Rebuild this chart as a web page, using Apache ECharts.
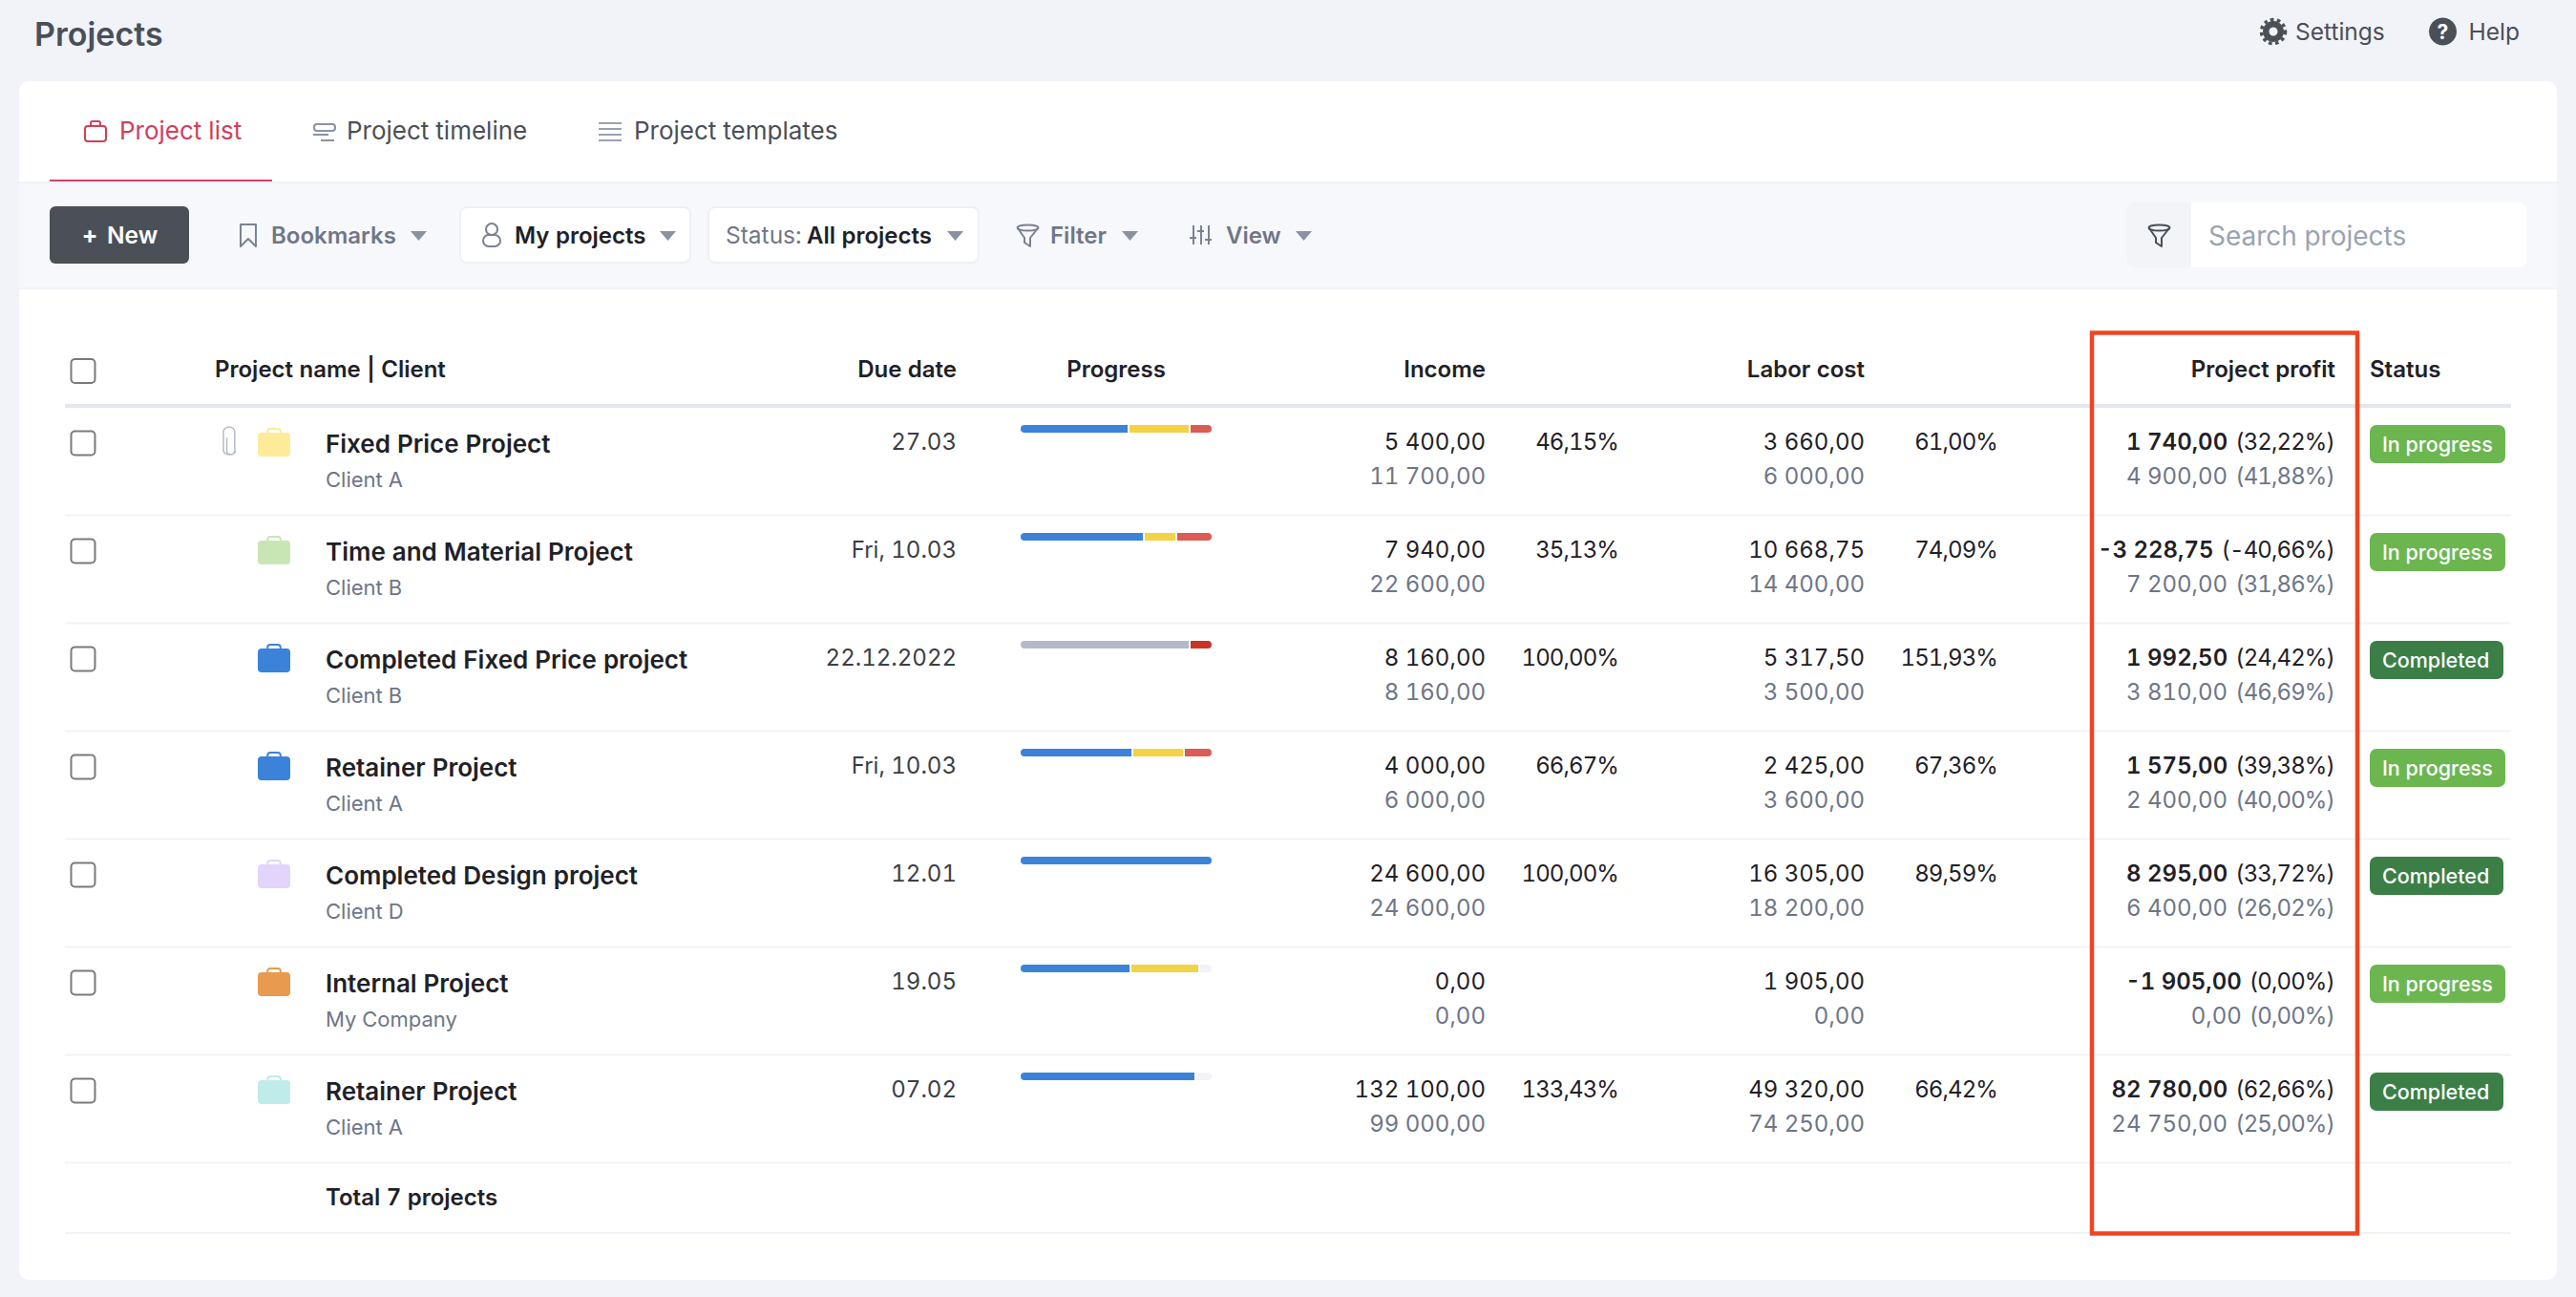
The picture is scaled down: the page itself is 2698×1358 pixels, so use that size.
<!DOCTYPE html>
<html><head><meta charset="utf-8">
<style>html,body{margin:0;padding:0;background:#f1f3f8}#c{width:2698px;height:1358px}
#c svg text{font-variant-numeric:tabular-nums !important;font-feature-settings:"tnum" 1 !important}
#m{position:absolute;visibility:hidden;white-space:pre;left:0;top:0}</style>
<script src="https://cdn.jsdelivr.net/npm/echarts@6/dist/echarts.min.js"></script>
</head><body><div id="c"></div><span id="m"></span>
<script>
const projectNames=['Fixed Price Project','Time and Material Project','Completed Fixed Price project','Retainer Project','Completed Design project','Internal Project','Retainer Project'];
const clients=['Client A','Client B','Client B','Client A','Client D','My Company','Client A'];
const dueDates=['27.03','Fri, 10.03','22.12.2022','Fri, 10.03','12.01','19.05','07.02'];
const iconColors=['#fdeb9a','#c8e6b4','#3b82d9','#3b82d9','#e2d4fb','#e89a4e','#c0ebeb'];
const statuses=['In progress','In progress','Completed','In progress','Completed','In progress','Completed'];
const incomeActual=[5400,7940,8160,4000,24600,0,132100];
const incomeBudget=[11700,22600,8160,6000,24600,0,99000];
const incomePct=[46.15,35.13,100,66.67,100,null,133.43];
const laborActual=[3660,10668.75,5317.5,2425,16305,1905,49320];
const laborBudget=[6000,14400,3500,3600,18200,0,74250];
const laborPct=[61,74.09,151.93,67.36,89.59,null,66.42];
const profitActual=[1740,-3228.75,1992.5,1575,8295,-1905,82780];
const profitActualPct=[32.22,-40.66,24.42,39.38,33.72,0,62.66];
const profitBudget=[4900,7200,3810,2400,6400,0,24750];
const profitBudgetPct=[41.88,31.86,46.69,40,26.02,0,25];
const progressBlue=[56,64,0,58,100,57,91];
const progressGray=[0,0,88,0,0,0,0];
const progressYellow=[31,16,0,26,0,35,0];
const progressRed=[11,18,0,14,0,0,0];
const progressDarkRed=[0,0,11,0,0,0,0];
const progressRest=[0,0,0,0,0,6,8];

const FONT='Inter';
const f=(s,w)=>(w||400)+' '+s+'px '+FONT;
const DARK='#1f2127',MUTED='#6e7687',SLATE='#4a4f58';
const PCT_TRACK=-0.9;
const fmt=v=>{const neg=v<0;const p=Math.abs(v).toFixed(2).split('.');
  return (neg?'-':'')+p[0].replace(/\B(?=(\d{3})+$)/g,' ')+','+p[1];};
const pct=v=>v===null?'':v.toFixed(2).replace('.',',')+'%';
const mEl=document.getElementById('m');
const textW=(t,font)=>{mEl.style.font=font;mEl.style.fontVariantNumeric='tabular-nums';mEl.style.fontFeatureSettings='"tnum" 1';mEl.textContent=t;return mEl.getBoundingClientRect().width;};
const pctW=t=>textW(t,f(24))+PCT_TRACK*t.length;

const segs=[[progressBlue,'#3b82d9','Blue'],[progressGray,'#b2bac8','Gray'],[progressYellow,'#f4d245','Yellow'],[progressRed,'#dc5b55','Red'],[progressDarkRed,'#cc3226','DarkRed'],[progressRest,'#f1f3f8','Rest']];
const barSeries=[];
segs.forEach((s,k)=>{
  const data=s[0].map((v,i)=>{
    const first=segs.slice(0,k).every(o=>o[0][i]===0);
    const last=segs.slice(k+1).every(o=>o[0][i]===0);
    return {value:v,itemStyle:{borderRadius:[first?4:0,last?4:0,last?4:0,first?4:0]}};
  });
  barSeries.push({type:'bar',name:s[2],stack:'p',xAxisIndex:0,yAxisIndex:0,barWidth:8,data,itemStyle:{color:s[1]},silent:true});
  barSeries.push({type:'bar',name:s[2]+' gap',stack:'p',xAxisIndex:0,yAxisIndex:0,barWidth:8,
    data:s[0].map((v,i)=>(v>0&&segs.slice(k+1).some(o=>o[0][i]>0))?1:0),itemStyle:{color:'transparent'},silent:true});
});

const T=(x,y,text,font,fill,align)=>({type:'text',z:10,style:{x,y,text,font,fill,align:align||'left',verticalAlign:'middle'}});
const R=(x,y,w,h,r,fill,stroke,lw,z)=>({type:'rect',z:z===undefined?1:z,shape:{x,y,width:w,height:h,r},style:{fill:fill||'transparent',stroke:stroke||null,lineWidth:lw||0}});
const P=(points,stroke,lw)=>({type:'polyline',z:10,shape:{points},style:{fill:'transparent',stroke,lineWidth:lw||2,lineJoin:'round',lineCap:'round'}});
const E=(cx,cy,rx,ry,stroke)=>({type:'ellipse',z:10,shape:{cx,cy,rx,ry},style:{fill:'transparent',stroke,lineWidth:2}});
const bag=(x,y,w,h,c)=>[
  {type:'rect',shape:{x:x+w*0.3,y:y-4,width:w*0.4,height:8,r:3},style:{fill:'transparent',stroke:c,lineWidth:2}},
  {type:'rect',shape:{x,y,width:w,height:h,r:4},style:{fill:c}}];

function renderRow(params,api){
  const i=params.dataIndex, yc=api.coord([0,i])[1];
  const X=v=>api.coord([v,i])[0];
  const ch=[];
  ch.push({type:'rect',shape:{x:X(68),y:yc+55.5,width:2562,height:2},style:{fill:'#f2f3f8'}});
  ch.push({type:'rect',shape:{x:X(74.5),y:yc-31.5,width:25,height:25,r:4},style:{fill:'#fff',stroke:'#7a7a7a',lineWidth:2}});
  if(i===0){
    ch.push({type:'path',shape:{pathData:'M238 458 V472 a3.5 3.5 0 0 0 7 0 V452 a5 5 0 0 0 -10 0 V472 a6 6 0 0 0 11 0',layout:'cover',x:X(234),y:yc-36,width:13,height:29},style:{fill:'transparent',stroke:'#b4bccb',lineWidth:1.5}});
  }
  bag(X(270),yc-30,34,25,iconColors[i]).forEach(e=>ch.push(e));
  const txt=(x,y,t,font,c,al)=>ch.push({type:'text',style:{x:X(x),y:yc+y,text:t,font,fill:c,align:al||'right',verticalAlign:'middle'}});
  txt(341,-18.5,projectNames[i],f(26,600),DARK,'left');
  txt(341,19,clients[i],f(22),MUTED,'left');
  txt(1002,-21,dueDates[i],f(24),'#3a3e46');
  const num=(x,y,t,c)=>txt(x,y,t,f(24),c);
  num(1556,-21,fmt(incomeActual[i]),DARK); num(1556,15,fmt(incomeBudget[i]),MUTED); num(1695,-21,pct(incomePct[i]),DARK);
  num(1953,-21,fmt(laborActual[i]),DARK); num(1953,15,fmt(laborBudget[i]),MUTED); num(2092,-21,pct(laborPct[i]),DARK);
  const pa='('+pct(profitActualPct[i])+')', pb='('+pct(profitBudgetPct[i])+')';
  num(2445,-21,pa,DARK);
  txt(2445-pctW(pa)-8,-21,fmt(profitActual[i]),f(24,600),DARK);
  num(2445,15,pb,MUTED);
  num(2445-pctW(pb)-8,15,fmt(profitBudget[i]),MUTED);
  const done=statuses[i]==='Completed';
  ch.push({type:'rect',shape:{x:X(2482),y:yc-38,width:done?140:142,height:40,r:7},style:{fill:done?'#3b7f47':'#6cb650'}});
  txt(2495,-18.5,statuses[i],f(21.5,500),'#fff','left');
  return {type:'group',children:ch};
}

const caret=(x,y,c)=>({type:'polygon',z:10,shape:{points:[[x,y],[x+17,y],[x+8.5,y+10]]},style:{fill:c||'#8a92a2'}});
const funnel=(x,y,c)=>[E(x+11.5,y+3.5,11,3,c),P([[x+1,y+4],[x+8,y+14],[x+8,y+19],[x+14,y+23],[x+14,y+14],[x+22,y+4]],c)];
const chrome=[
  R(20,85,2658,1255,10,'#ffffff',null,0,0),
  R(20,190,2658,113,0,'#f7f8fc',null,0,1),
  R(20,190,2658,2,0,'#f1f3f8',null,0,2),
  R(20,301,2658,2,0,'#f1f3f8',null,0,2),
  T(36,35.5,'Projects',f(34,600),SLATE),
  {type:'circle',z:10,shape:{cx:2381,cy:33,r:11},style:{fill:SLATE}},
  {type:'circle',z:10,shape:{cx:2381,cy:33,r:12.5},style:{fill:'transparent',stroke:SLATE,lineWidth:3.5,lineDash:[3.5,3.4]}},
  {type:'circle',z:11,shape:{cx:2381,cy:33,r:4.5},style:{fill:'#f1f3f8'}},
  T(2404,32.5,'Settings',f(24.5),SLATE),
  {type:'circle',z:10,shape:{cx:2558.5,cy:33,r:14.5},style:{fill:SLATE}},
  T(2558.5,33,'?',f(21,700),'#fff','center'),
  T(2585.5,32.5,'Help',f(24.5),SLATE),
  {type:'rect',z:10,shape:{x:89,y:132,width:22,height:16,r:3},style:{fill:'transparent',stroke:'#d0405a',lineWidth:2}},
  {type:'rect',z:10,shape:{x:95,y:127,width:10,height:5,r:2},style:{fill:'transparent',stroke:'#d0405a',lineWidth:2}},
  T(125,136.5,'Project list',f(26),'#d0405a'),
  R(52,188,233,2,0,'#d4465c',null,0,5),
  {type:'rect',z:10,shape:{x:329,y:130,width:22,height:7,r:3},style:{fill:'transparent',stroke:'#8a92a2',lineWidth:2}},
  R(328,140,16,2,0,'#8a92a2',null,0,10),R(336,146,14,2,0,'#8a92a2',null,0,10),
  T(363,136.5,'Project timeline',f(26),SLATE),
  R(627,128,24,2,0,'#9aa2b0',null,0,10),R(627,134,24,2,0,'#9aa2b0',null,0,10),R(627,140,24,2,0,'#9aa2b0',null,0,10),R(627,146,24,2,0,'#9aa2b0',null,0,10),
  T(664,136.5,'Project templates',f(26),SLATE),
  R(52,216,146,60,6,SLATE,null,0,5),
  T(86,246,'+',f(25,700),'#fff'),
  T(112,246,'New',f(24.5,600),'#fff'),
  P([[252,235],[268,235],[268,258],[260,250],[252,258],[252,235]],'#7a8292'),
  T(284,246,'Bookmarks',f(24,600),'#6f7787'),
  caret(430,242),
  R(482,217,241,58,7,'#ffffff','#eef0f5',2,5),
  {type:'circle',z:10,shape:{cx:515,cy:240,r:6},style:{fill:'transparent',stroke:'#7a8292',lineWidth:2}},
  {type:'rect',z:10,shape:{x:506,y:246,width:18,height:12,r:6},style:{fill:'transparent',stroke:'#7a8292',lineWidth:2}},
  T(539,246,'My projects',f(24,600),DARK),
  caret(691,242),
  R(742,217,283,58,7,'#ffffff','#eef0f5',2,5),
  T(760,246,'Status:',f(24.5),'#6f7787'),
  T(845,246,'All projects',f(24,600),DARK),
  caret(992,242),
  ...funnel(1065,235,'#7a8292'),
  T(1100,246,'Filter',f(24,600),'#6f7787'),
  caret(1175,242),
  R(1249,236,2,20,0,'#7a8292',null,0,10),R(1257,236,2,20,0,'#7a8292',null,0,10),R(1265,236,2,20,0,'#7a8292',null,0,10),
  R(1246,248,7,2,0,'#7a8292',null,0,10),R(1254,241,7,2,0,'#7a8292',null,0,10),R(1262,250,7,2,0,'#7a8292',null,0,10),
  T(1284,246,'View',f(24,600),'#6f7787'),
  caret(1357,242),
  R(2227,212,419,68,8,'#ffffff',null,0,5),
  R(2227,212,68,68,[8,0,0,8],'#f2f4f8',null,0,6),
  ...funnel(2250,235,SLATE),
  T(2313,246.5,'Search projects',f(28),'#9aa3b2'),
  R(74.5,376,25,25,4,'#fff','#7a7a7a',2,5),
  T(225,386,'Project name | Client',f(24,600),DARK),
  T(1002,386,'Due date',f(24,600),DARK,'right'),
  T(1169,386,'Progress',f(24,600),DARK,'center'),
  T(1556,386,'Income',f(24,600),DARK,'right'),
  T(1953,386,'Labor cost',f(24,600),DARK,'right'),
  T(2446,386,'Project profit',f(24,600),DARK,'right'),
  T(2482,386,'Status',f(24,600),DARK),
  R(68,423,2562,4,0,'#e4e7ee',null,0,2),
  T(341,1253,'Total '+projectNames.length+' projects',f(24,600),DARK),
  R(68,1290,2562,2,0,'#f2f3f8',null,0,2),
  {type:'rect',z:100,zlevel:1,shape:{x:2191,y:348.5,width:278,height:943},style:{fill:'transparent',stroke:'#ef4423',lineWidth:4.5}}
];

const chart=echarts.init(document.getElementById('c'),null,{renderer:'svg'});
const tighten=()=>document.querySelectorAll('#c svg text').forEach(t=>{
  if(t.textContent.indexOf('%')>=0) t.style.letterSpacing=PCT_TRACK+'px';
});
chart.on('finished',tighten);
chart.setOption({
  animation:false,
  backgroundColor:'#f1f3f8',
  textStyle:{fontFamily:FONT},
  grid:[
    {left:1069,width:200,top:392.5,height:791,containLabel:false},
    {left:0,width:2698,top:426.5,height:791,containLabel:false}
  ],
  xAxis:[
    {type:'value',gridIndex:0,min:0,max:100,show:false},
    {type:'value',gridIndex:1,min:0,max:2698,show:false}
  ],
  yAxis:[
    {type:'category',gridIndex:0,inverse:true,data:projectNames.map((n,i)=>i+':'+n),show:false},
    {type:'category',gridIndex:1,inverse:true,data:projectNames.map((n,i)=>i+':'+n),show:false}
  ],
  graphic:{elements:chrome},
  series:[
    {type:'custom',name:'Rows',xAxisIndex:1,yAxisIndex:1,z:1,clip:false,silent:true,
     data:projectNames.map((n,i)=>[0,i]),encode:{x:0,y:1},renderItem:renderRow},
    ...barSeries
  ]
});
tighten();
</script></body></html>
